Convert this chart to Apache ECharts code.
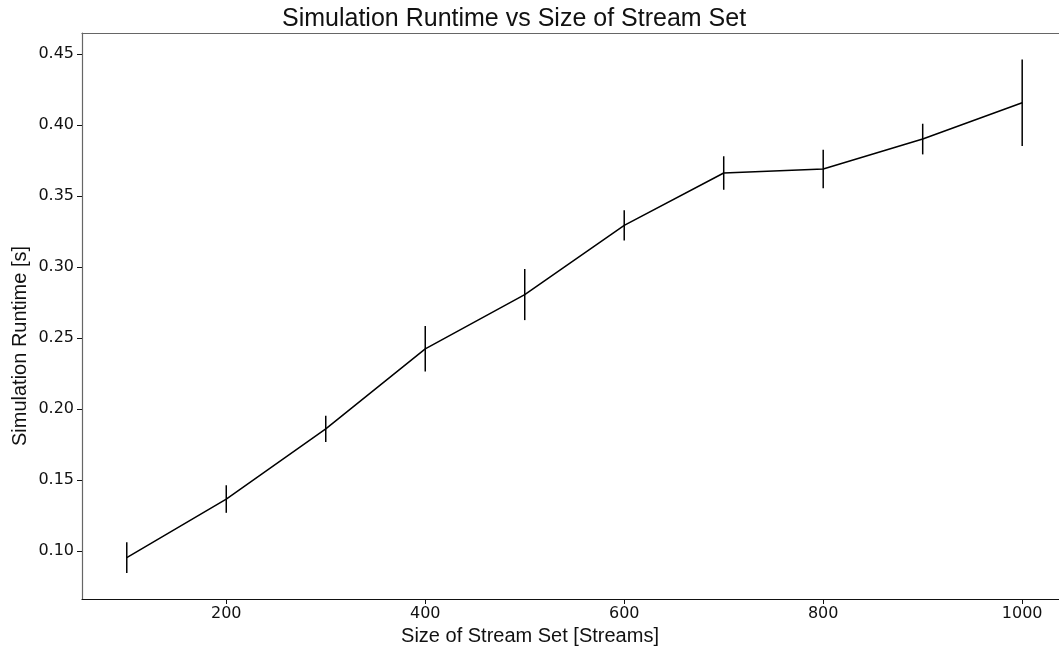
<!DOCTYPE html>
<html>
<head>
<meta charset="utf-8">
<script src="https://cdn.jsdelivr.net/npm/echarts@6/dist/echarts.min.js"></script>
<style>html,body{margin:0;padding:0;background:#fff}#c{width:1059px;height:650px}</style>
</head>
<body>
<div id="c"></div>
<script>
const streams = [100, 200, 300, 400, 500, 600, 700, 800, 900, 1000];
const runtime = [0.0953, 0.1366, 0.1860, 0.2424, 0.2806, 0.3293, 0.3662, 0.3690, 0.3901, 0.4157];
const runtimeErr = [0.0108, 0.0097, 0.0092, 0.0160, 0.0180, 0.0106, 0.0118, 0.0136, 0.0108, 0.0304];
const xTicks = [200, 400, 600, 800, 1000];
const yTicks = [0.10, 0.15, 0.20, 0.25, 0.30, 0.35, 0.40, 0.45];

const lineData = streams.map((x, i) => [x, runtime[i]]);
const errData = streams.map((x, i) => [x, runtime[i] - runtimeErr[i], runtime[i] + runtimeErr[i]]);

const chart = echarts.init(document.getElementById('c'), null, {renderer: 'canvas'});
const labelFont = '"Liberation Sans", Arial, sans-serif';
const tickFont = '"DejaVu Sans", sans-serif';

chart.setOption({
  animation: false,
  backgroundColor: '#fff',
  grid: {left: 82, top: 33, right: 0, bottom: 51},
  xAxis: [{
    type: 'value', min: 55, max: 1037,
    axisLine: {show: true, onZero: false, lineStyle: {color: '#111', width: 1.2}},
    axisTick: {show: true, customValues: xTicks, length: 5, inside: false, lineStyle: {color: '#111', width: 1}},
    axisLabel: {customValues: xTicks, color: '#111', fontSize: 16, fontFamily: tickFont, margin: 7,
      formatter: v => String(v)},
    splitLine: {show: false}
  }, {
    type: 'value', min: 55, max: 1037, position: 'top',
    axisLine: {show: true, onZero: false, lineStyle: {color: '#666', width: 1.2}},
    axisTick: {show: false}, axisLabel: {show: false}, splitLine: {show: false}
  }],
  yAxis: {
    type: 'value', min: 0.0662, max: 0.4648,
    axisLine: {show: true, onZero: false, lineStyle: {color: '#666', width: 1.2}},
    axisTick: {show: true, customValues: yTicks, length: 5, lineStyle: {color: '#111', width: 1}},
    axisLabel: {customValues: yTicks, color: '#111', fontSize: 16, fontFamily: tickFont, margin: 8,
      formatter: v => v.toFixed(2)},
    splitLine: {show: false}
  },
  graphic: [
    {type: 'text', left: 282, top: 7, style: {text: 'Simulation Runtime vs Size of Stream Set', font: '25px ' + labelFont, fill: '#111'}},
    {type: 'text', x: 530, y: 636, style: {text: 'Size of Stream Set [Streams]', font: '20px ' + labelFont, fill: '#111', align: 'center', verticalAlign: 'middle'}},
    {type: 'text', x: 20, y: 346, rotation: Math.PI / 2, style: {text: 'Simulation Runtime [s]', font: '20px ' + labelFont, fill: '#111', align: 'center', verticalAlign: 'middle'}}
  ],
  series: [{
    type: 'line', data: lineData, symbol: 'none',
    lineStyle: {color: '#000', width: 1.5}
  }, {
    type: 'custom', data: errData,
    renderItem: function (params, api) {
      const x = api.value(0);
      const lo = api.coord([x, api.value(1)]);
      const hi = api.coord([x, api.value(2)]);
      return {type: 'line', shape: {x1: lo[0], y1: lo[1], x2: hi[0], y2: hi[1]}, style: {stroke: '#000', lineWidth: 1.5}};
    },
    encode: {x: 0, y: [1, 2]}
  }]
});
</script>
</body>
</html>
